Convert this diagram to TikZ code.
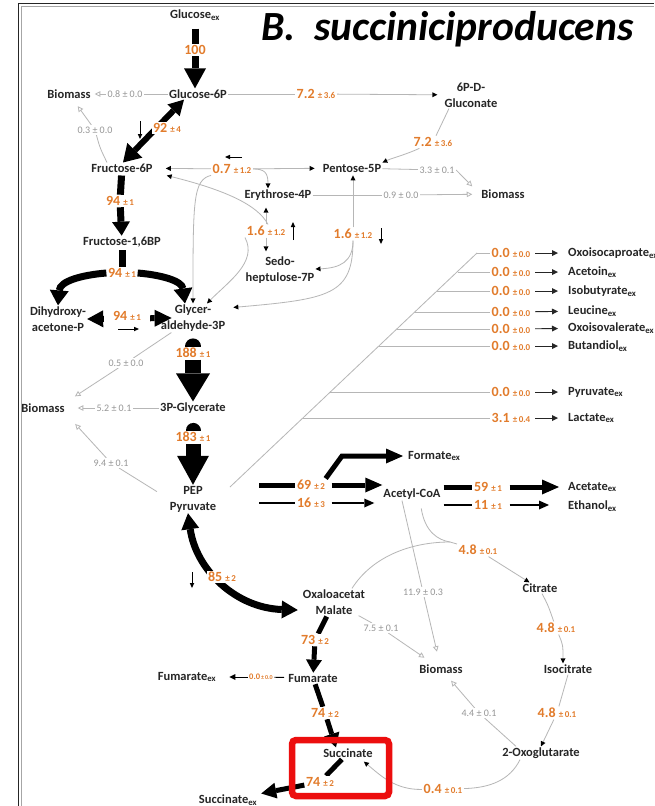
\documentclass[tikz,border=0pt]{standalone}
\usepackage{fontspec}
\setmainfont{Carlito}
\usetikzlibrary{arrows.meta,backgrounds}
\definecolor{orng}{RGB}{226,124,44}
\definecolor{gtxt}{RGB}{150,150,150}
\definecolor{gln}{RGB}{182,182,182}
\definecolor{ntxt}{RGB}{38,38,38}
\definecolor{redbox}{RGB}{236,14,14}
\newcommand{\onm}[2]{#1\ {\fontsize{9}{10}\selectfont ±\,#2}}
\newcommand{\sxt}{\textsubscript{ex}}
\begin{document}
\begin{tikzpicture}[x=1pt,y=-1pt,
  nm/.style={font=\bfseries\fontsize{12.5}{16}\selectfont,text=ntxt,align=center,inner sep=1pt},
  onum/.style={font=\bfseries\fontsize{14}{15}\selectfont,text=orng,fill=white,inner sep=1.5pt},
  gnum/.style={font=\fontsize{10}{11}\selectfont,text=gtxt,fill=white,inner sep=1.5pt},
  gl/.style={draw=gln,line width=0.8pt},
  tipb/.style={-{Triangle[width=5pt,length=5pt,line width=0pt,color=black]}},
  tipo/.style={-{Triangle[open,width=5.5pt,length=5.5pt]}},
  thk/.style={draw=black,line width=#1},
  ind/.style={draw=black,line width=0.8pt,-{Triangle[width=4.5pt,length=5pt,line width=0pt]}},
  exa/.style={draw=black!85,line width=0.9pt,shorten <=3pt,shorten >=9pt,-{Triangle[width=6pt,length=6pt,line width=0pt]}},
]
\useasboundingbox (0,0) rectangle (654,806);
\draw[black!85, line width=0.9pt] (18,806) -- (18,3) -- (654,3);
\draw[black!35, line width=0.6pt] (21,806) -- (21,6) -- (654,6);

\node[anchor=base west, font=\bfseries\itshape\fontsize{41.5}{44}\selectfont, inner sep=0pt] (title) at (261,40) {B.\ \ succiniciproducens};

% metabolite names
\node[nm] (Gex) at (195,15) {Glucose\sxt};
\node[nm] (G6P) at (198,94) {Glucose-6P};
\node[nm] (BM1) at (69,94) {Biomass};
\node[nm] (PGL) at (471,95) {6P-D-\\Gluconate};
\node[nm] (F6P) at (122,168) {Fructose-6P};
\node[nm] (P5P) at (352,168) {Pentose-5P};
\node[nm] (E4P) at (278,195) {Erythrose-4P};
\node[nm] (BM2) at (503,194) {Biomass};
\node[nm] (F16) at (122,242) {Fructose-1,6BP};
\node[nm] (S7P) at (280,270) {Sedo-\\heptulose-7P};
\node[nm] (DHAP) at (58,319) {Dihydroxy-\\acetone-P};
\node[nm] (G3P) at (193,318) {Glycer-\\aldehyde-3P};
\node[nm] (BM3) at (43,408) {Biomass};
\node[nm] (PG3) at (193,408) {3P-Glycerate};
\node[nm] (PEP) at (193,499) {PEP\\Pyruvate};
\node[nm] (OAA) at (334,602) {Oxaloacetat\\Malate};
\node[nm] (FUM) at (313,678) {Fumarate};
\node[nm] (FUMex) at (187,677) {Fumarate\sxt};
\node[nm] (SUC) at (348,753) {Succinate};
\node[nm] (SUCex) at (228,800) {Succinate\sxt};
\node[nm] (ACoA) at (412,494) {Acetyl-CoA};
\node[nm,anchor=west] (FOR) at (407,456) {Formate\sxt};
\node[nm,anchor=west] (ACE) at (567,487) {Acetate\sxt};
\node[nm,anchor=west] (ETH) at (567,506) {Ethanol\sxt};
\node[nm] (CIT) at (540,588) {Citrate};
\node[nm] (ICT) at (568,669) {Isocitrate};
\node[nm] (OXG) at (541,753) {2-Oxoglutarate};
\node[nm] (BM4) at (441,669) {Biomass};
\node[nm,anchor=west] (X1) at (567,253) {Oxoisocaproate\sxt};
\node[nm,anchor=west] (X2) at (567,272) {Acetoin\sxt};
\node[nm,anchor=west] (X3) at (567,291) {Isobutyrate\sxt};
\node[nm,anchor=west] (X4) at (567,311) {Leucine\sxt};
\node[nm,anchor=west] (X5) at (567,328) {Oxoisovalerate\sxt};
\node[nm,anchor=west] (X6) at (567,346) {Butandiol\sxt};
\node[nm,anchor=west] (X7) at (567,392) {Pyruvate\sxt};
\node[nm,anchor=west] (X8) at (567,418) {Lactate\sxt};

% orange flux labels
\node[onum] (n100) at (195,50) {100};
\node[onum] (n72a) at (316,94) {\onm{7.2}{3.6}};
\node[onum] (n72b) at (433,142) {\onm{7.2}{3.6}};
\node[onum] (n92) at (167,128) {\onm{92}{4}};
\node[onum] (n07) at (232,169) {\onm{0.7}{1.2}};
\node[onum] (n16a) at (266,231) {\onm{1.6}{1.2}};
\node[onum] (n16b) at (353,234) {\onm{1.6}{1.2}};
\node[onum] (n94a) at (120,201) {\onm{94}{1}};
\node[onum] (n94b) at (122,273) {\onm{94}{1}};
\node[onum, inner xsep=9pt] (n94c) at (127,316) {\onm{94}{1}};
\node[onum] (n188) at (193,353) {\onm{188}{1}};
\node[onum] (n183) at (193,437) {\onm{183}{1}};
\node[onum] (n85) at (222,577) {\onm{85}{2}};
\node[onum] (n69) at (311,485) {\onm{69}{2}};
\node[onum] (n16c) at (311,503) {\onm{16}{3}};
\node[onum] (n59) at (488,487) {\onm{59}{1}};
\node[onum] (n11) at (488,505) {\onm{11}{1}};
\node[onum] (n48a) at (478,550) {\onm{4.8}{0.1}};
\node[onum] (n48b) at (556,628) {\onm{4.8}{0.1}};
\node[onum] (n48c) at (557,713) {\onm{4.8}{0.1}};
\node[onum] (n04) at (443,789) {\onm{0.4}{0.1}};
\node[onum] (n73) at (315,640) {\onm{73}{2}};
\node[onum] (n74a) at (325,713) {\onm{74}{2}};
\node[onum] (n74b) at (320,782) {\onm{74}{2}};
\node[onum, font=\bfseries\fontsize{8.5}{9}\selectfont] (n00f) at (261,677) {0.0{\fontsize{6}{7}\selectfont\,±\,0.0}};
\node[onum] (x1) at (511,253) {\onm{0.0}{0.0}};
\node[onum] (x2) at (511,272) {\onm{0.0}{0.0}};
\node[onum] (x3) at (511,291) {\onm{0.0}{0.0}};
\node[onum] (x4) at (511,312) {\onm{0.0}{0.0}};
\node[onum] (x5) at (511,329) {\onm{0.0}{0.0}};
\node[onum] (x6) at (511,346) {\onm{0.0}{0.0}};
\node[onum] (x7) at (511,392) {\onm{0.0}{0.0}};
\node[onum] (x8) at (511,418) {\onm{3.1}{0.4}};

% grey flux labels
\node[gnum] (g08) at (125,94) {0.8 ± 0.0};
\node[gnum] (g03) at (95,130) {0.3 ± 0.0};
\node[gnum] (g33) at (437,170) {3.3 ± 0.1};
\node[gnum] (g09) at (401,195) {0.9 ± 0.0};
\node[gnum] (g05) at (126,363) {0.5 ± 0.0};
\node[gnum] (g52) at (114,408) {5.2 ± 0.1};
\node[gnum] (g94) at (111,463) {9.4 ± 0.1};
\node[gnum] (g119) at (423,592) {11.9 ± 0.3};
\node[gnum] (g75) at (381,628) {7.5 ± 0.1};
\node[gnum] (g44) at (479,713) {4.4 ± 0.1};

% helper coordinates
\coordinate (dg0) at (230,487);
\coordinate (dg1) at (477,253);
\coordinate (d2) at (458,272);
\coordinate (d3) at (437,291);
\coordinate (d4) at (415,312);
\coordinate (d5) at (397,329);
\coordinate (d6) at (379,346);
\coordinate (d7) at (330,392);
\coordinate (d8) at (303,418);
\coordinate (fbend) at (342,456);
\coordinate (cusp) at (450,542);

\draw[redbox, line width=6.5pt, rounded corners=4pt] (292,740) rectangle (389,796);

\begin{scope}[on background layer]
\fill[white] (0,0) rectangle (654,806);
% main trunk
\draw[thk=7pt, shorten <=7pt] (Gex) -- (n100);
\draw[thk=7pt, -{Triangle[width=22pt,length=20pt,line width=0pt]}] (n100) -- (n100 |- G6P.north);
\draw[thk=6pt, {Triangle[width=17pt,length=15pt,line width=0pt]}-{Triangle[width=21pt,length=17pt,line width=0pt]}] ([xshift=-14pt]G6P.south) -- ([xshift=1pt]F6P.north);
\draw[thk=7pt, shorten <=2pt] (F6P) -- (n94a);
\draw[thk=7pt, -{Triangle[width=18pt,length=14pt,line width=0pt]}] (n94a) -- (F16);
\draw[thk=7pt, shorten <=2pt] (F16) -- (n94b);
\draw[thk=7pt, -{Triangle[width=19pt,length=15pt,line width=0pt]}] (n94b.west) .. controls (82,275) and (60,281) .. (DHAP.north);
\draw[thk=7pt, -{Triangle[width=19pt,length=15pt,line width=0pt]}] (n94b.east) .. controls (162,275) and (182,281) .. ([xshift=-8pt]G3P.north);
\draw[thk=6pt, {Triangle[width=17pt,length=16pt,line width=0pt]}-{Triangle[width=17pt,length=17pt,line width=0pt]}] (DHAP.east) -- ([xshift=12pt]G3P.west);
\draw[thk=16pt, line cap=round] (n188.north) -- ([yshift=-0.1pt]n188.north);
\draw[thk=16pt, -{Triangle[width=34pt,length=28pt,line width=0pt]}] (n188) -- (PG3);
\draw[thk=15pt, line cap=round] (n183.north) -- ([yshift=-0.1pt]n183.north);
\draw[thk=15pt, -{Triangle[width=32pt,length=29pt,line width=0pt]}] (n183) -- (PEP);
\draw[thk=7pt, {Triangle[width=18pt,length=16pt,line width=0pt]}-{Triangle[width=18pt,length=16pt,line width=0pt]}] ([xshift=-5pt]PEP.south) .. controls (196,570) and (236,608) .. ([xshift=-4pt,yshift=-8pt]OAA.west);
% pyruvate node
\draw[thk=5pt, shorten <=42pt] (PEP.east |- n69) -- (n69);
\draw[thk=1.8pt, shorten <=42pt] (PEP.east |- n16c) -- (n16c);
\draw[thk=5pt, shorten <=5pt, -{Triangle[width=15pt,length=17pt,line width=0pt]}] (n69) -- (ACoA.west |- n69);
\draw[thk=5pt, shorten >=4pt, -{Triangle[width=15pt,length=17pt,line width=0pt]}] ([xshift=-1pt]n69.north east) -- (fbend) -- (FOR.west);
\draw[thk=1.8pt, shorten <=5pt, shorten >=8pt, -{Triangle[width=9pt,length=10pt,line width=0pt]}] (n16c) -- (ACoA.west |- n16c);
\draw[thk=5pt, shorten <=2pt] (ACoA.east |- n59) -- (n59);
\draw[thk=5pt, shorten <=6pt, shorten >=8pt, -{Triangle[width=15pt,length=17pt,line width=0pt]}] (n59) -- (ACE.west |- n59);
\draw[thk=1.8pt, shorten <=2pt] (ACoA.east |- n11) -- (n11);
\draw[thk=1.8pt, shorten <=6pt, shorten >=18pt, -{Triangle[width=9pt,length=10pt,line width=0pt]}] (n11) -- (ETH.west |- n11);
% reductive branch
\draw[thk=5pt, shorten <=1pt] (OAA) -- (n73);
\draw[thk=5pt, -{Triangle[width=16pt,length=13pt,line width=0pt]}] (n73) -- (FUM);
\draw[thk=5pt, shorten <=1pt] (FUM) -- (n74a);
\draw[thk=5pt, -{Triangle[width=16pt,length=14pt,line width=0pt]}] (n74a) -- ([xshift=-12pt]SUC.north);
\draw[thk=5pt, shorten <=1pt] (SUC) -- (n74b);
\draw[thk=5pt, shorten >=3pt, -{Triangle[width=16pt,length=15pt,line width=0pt]}] (n74b) -- (SUCex);
\draw[draw=black, line width=0.9pt, shorten <=3pt] (FUM) -- (n00f);
\draw[draw=black, line width=0.9pt, shorten >=12pt, -{Triangle[width=6pt,length=6pt,line width=0pt]}] (n00f) -- (FUMex);
% grey connectors, upper part
\draw[gl] (G6P) -- (g08);
\draw[gl, tipo, shorten >=3pt] (g08) -- (BM1);
\draw[gl] ([xshift=-15pt]F6P.north) .. controls (100,148) .. (g03);
\draw[gl, tipo, shorten >=8pt] (g03) -- (BM1);
\draw[gl] (G6P) -- (n72a);
\draw[gl, tipb, shorten >=6pt] (n72a) -- (PGL);
\draw[gl] ([xshift=-22pt]PGL.south) -- (n72b);
\draw[gl, tipb] (n72b) .. controls (405,155) and (392,158) .. (P5P.north east);
\draw[gl] (P5P) -- (g33);
\draw[gl, tipo] (g33.east) -- ([xshift=-8pt,yshift=2pt]BM2.north west);
\draw[gl] (E4P) -- (g09);
\draw[gl, tipo, shorten >=8pt] (g09) -- (BM2);
\draw[gl, tipb, shorten >=12pt] (n07) -- (F6P);
\draw[gl, tipb, shorten >=7pt] (n07) -- (P5P);
\draw[gl, tipb] (n07.east) .. controls (264,169) and (268,172) .. ([xshift=-10pt]E4P.north);
\draw[gl, tipb] (n07.south west) .. controls (193,180) and (193,200) .. (G3P.north);
\draw[gl, tipb, shorten >=6pt] (n16a.north) -- (n16a.north |- E4P.south);
\draw[gl, tipb, shorten >=4pt] (n16a.south) -- (n16a.south |- S7P.north);
\draw[gl, tipb] ([xshift=2pt]n16a.north) .. controls (258,205) and (225,190) .. ([xshift=13pt,yshift=-2pt]F6P.south east);
\draw[gl, tipb] (n16a.south west) .. controls (258,262) and (228,282) .. ([xshift=14pt]G3P.north);
\draw[gl, tipb, shorten >=2pt] (n16b.north) -- (n16b.north |- P5P.south);
\draw[gl, tipb] (n16b.south) .. controls (353,262) and (340,268) .. ([yshift=1pt]S7P.east);
\draw[gl, tipb] (n16b.south) .. controls (353,295) and (330,299) .. ([xshift=7pt,yshift=-4pt]G3P.north east);
% grey connectors, lower part
\draw[gl] (G3P) -- (g05);
\draw[gl, tipo, shorten >=11pt] (g05) -- (BM3.north east);
\draw[gl] (PG3) -- (g52);
\draw[gl, tipo, shorten >=12pt] (g52) -- (BM3);
\draw[gl, shorten <=14pt] (PEP.west) -- (g94);
\draw[gl, tipo, shorten >=14pt] (g94) -- (BM3.south east);
\draw[gl] (dg0) -- (dg1);
\draw[gl] (dg1) -- (x1);
\draw[gl] (d2) -- (x2);
\draw[gl] (d3) -- (x3);
\draw[gl] (d4) -- (x4);
\draw[gl] (d5) -- (x5);
\draw[gl] (d6) -- (x6);
\draw[gl] (d7) -- (x7);
\draw[gl] (d8) -- (x8);
\draw[exa] (x1) -- (X1);
\draw[exa] (x2) -- (X2);
\draw[exa] (x3) -- (X3);
\draw[exa] (x4) -- (X4);
\draw[exa] (x5) -- (X5);
\draw[exa] (x6) -- (X6);
\draw[exa] (x7) -- (X7);
\draw[exa] (x8) -- (X8);
\draw[gl] ([xshift=-10pt]ACoA.south) -- (g119);
\draw[gl, tipo, shorten >=12pt] (g119) -- (BM4);
\draw[gl] (OAA) -- (g75);
\draw[gl, tipo, shorten >=10pt] (g75) -- (BM4);
\draw[gl] ([xshift=-25pt]OXG.north) -- (g44);
\draw[gl, tipo, shorten >=8pt] (g44) -- (BM4);
\draw[gl, shorten <=8pt] ([xshift=8pt]ACoA.south) .. controls (425,532) and (438,540) .. (cusp);
\draw[gl] ([xshift=18pt]OAA.north) .. controls (372,557) and (410,542) .. (cusp);
\draw[gl] (cusp) -- (n48a);
\draw[gl, tipb] (n48a) -- ([xshift=8pt]CIT.north west);
\draw[gl] ([xshift=2pt]CIT.south) .. controls (548,605) .. (n48b);
\draw[gl, tipb] (n48b) .. controls (563,645) .. ([xshift=-5pt]ICT.north);
\draw[gl] (ICT.south) -- (n48c);
\draw[gl, tipb] (n48c) -- (OXG.north);
\draw[gl] ([xshift=-21pt]OXG.south) .. controls (510,780) and (490,788) .. (n04);
\draw[gl, tipb] (n04) .. controls (395,790) and (380,775) .. ([xshift=-10pt,yshift=-3pt]SUC.south east);
% direction indicators
\draw[ind] ([xshift=-27pt,yshift=7pt]n92.center) -- ([xshift=-27pt,yshift=-11pt]n92.center);
\draw[ind] ([xshift=10pt,yshift=12pt]n07.center) -- ([xshift=-7pt,yshift=12pt]n07.center);
\draw[ind] ([xshift=27pt,yshift=-9pt]n16a.center) -- ([xshift=27pt,yshift=9pt]n16a.center);
\draw[ind] ([xshift=28pt,yshift=6pt]n16b.center) -- ([xshift=28pt,yshift=-10pt]n16b.center);
\draw[ind] ([xshift=-9pt,yshift=-13pt]n94c.center) -- ([xshift=12pt,yshift=-13pt]n94c.center);
\draw[ind] ([xshift=-30pt,yshift=5pt]n85.center) -- ([xshift=-30pt,yshift=-11pt]n85.center);
\end{scope}
\end{tikzpicture}
\end{document}
